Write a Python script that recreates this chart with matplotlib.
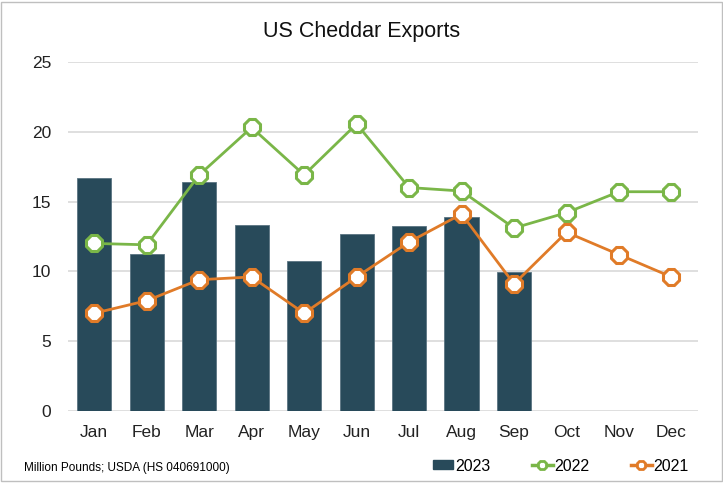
import matplotlib.pyplot as plt
from matplotlib.lines import Line2D
from matplotlib.patches import Patch, Rectangle

plt.rcParams['font.family'] = ['Liberation Sans Narrow', 'Liberation Sans', 'DejaVu Sans']

months = ["Jan", "Feb", "Mar", "Apr", "May", "Jun", "Jul", "Aug", "Sep", "Oct", "Nov", "Dec"]
exports_2023 = [16.7, 11.25, 16.4, 13.3, 10.75, 12.7, 13.25, 13.9, 9.95]
exports_2022 = [12.0, 11.9, 16.9, 20.3, 16.9, 20.55, 16.0, 15.75, 13.1, 14.2, 15.7, 15.7]
exports_2021 = [7.0, 7.9, 9.4, 9.6, 7.0, 9.6, 12.1, 14.1, 9.1, 12.8, 11.2, 9.6]

bar_color = "#284A5A"
green = "#7AB648"
orange = "#E07B28"

fig = plt.figure(figsize=(7.23, 4.83), dpi=100)
ax = fig.add_axes([0.094, 0.149, 0.871, 0.723])

x = list(range(len(months)))
ax.bar(x[:len(exports_2023)], exports_2023, width=0.65, color=bar_color,
       edgecolor="#5a7482", linewidth=0.6, zorder=2)
ax.plot(x, exports_2022, color=green, lw=2.0, marker="8", markersize=13,
        markerfacecolor="white", markeredgecolor=green, markeredgewidth=2.2, zorder=3)
ax.plot(x, exports_2021, color=orange, lw=2.0, marker="8", markersize=13,
        markerfacecolor="white", markeredgecolor=orange, markeredgewidth=2.2, zorder=3)

ax.set_xlim(-0.5, 11.5)
ax.set_ylim(0, 25)
ax.set_yticks(range(0, 26, 5))
ax.set_xticks(x)
ax.set_xticklabels(months)
ax.yaxis.grid(True, color="#D9D9D9", lw=1.2, zorder=0)
ax.set_axisbelow(True)
for s in ax.spines.values():
    s.set_visible(False)
ax.tick_params(length=0, labelsize=12.5, colors="#222222")
ax.tick_params(axis="x", pad=10)
ax.tick_params(axis="y", pad=12)

fig.text(0.5, 0.935, "US Cheddar Exports", ha="center", va="center", fontsize=15.5, color="#111111")
fig.text(0.033, 0.032, "Million Pounds; USDA (HS 040691000)", ha="left", va="center", fontsize=8.5)

handles = [
    Patch(color=bar_color, label="2023"),
    Line2D([0], [0], color=green, lw=2.5, marker="8", markersize=7,
           markerfacecolor="white", markeredgecolor=green, markeredgewidth=2, label="2022"),
    Line2D([0], [0], color=orange, lw=2.5, marker="8", markersize=7,
           markerfacecolor="white", markeredgecolor=orange, markeredgewidth=2, label="2021"),
]
fig.legend(handles=handles, loc="center right", bbox_to_anchor=(0.972, 0.035), ncol=3,
           frameon=False, fontsize=11.5, handlelength=1.3, handletextpad=0.1, columnspacing=2.6,
           handleheight=0.5)

fig.patches.append(Rectangle((0.002, 0.004), 0.996, 0.992, transform=fig.transFigure,
                             fill=False, edgecolor="#BFBFBF", lw=1))

fig.savefig("out.png", dpi=100)
